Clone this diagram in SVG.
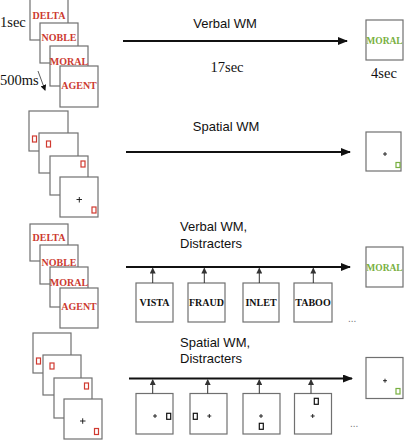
<svg xmlns="http://www.w3.org/2000/svg" width="407" height="440" viewBox="0 0 407 440">
<style>
.sq{fill:#fff;stroke:#707070;stroke-width:1.2}
.rw{font-family:"Liberation Serif",serif;font-weight:bold;font-size:10px;fill:#cc3a30}
.gw{font-family:"Liberation Serif",serif;font-weight:bold;font-size:9.5px;fill:#78b040}
.bw{font-family:"Liberation Serif",serif;font-weight:bold;font-size:10px;fill:#111}
.lab{font-family:"Liberation Sans",Arial,sans-serif;font-size:13px;fill:#111}
.tm{font-family:"Liberation Serif",serif;font-size:14.5px;fill:#111}
.rr{fill:none;stroke:#d03a30;stroke-width:1.2}
.gr{fill:none;stroke:#78b040;stroke-width:1.2}
.kr{fill:none;stroke:#111;stroke-width:1.2}
.pl{stroke:#111;stroke-width:0.9}
.main{stroke:#111;stroke-width:2.2;fill:none}
.up{stroke:#333;stroke-width:1;fill:none}
</style>
<defs>
<marker id="ah" markerWidth="10" markerHeight="8" refX="9" refY="4" orient="auto" markerUnits="userSpaceOnUse">
<path d="M0,0 L10,4 L0,8 Z" fill="#111"/>
</marker>
<marker id="ahs" markerWidth="6" markerHeight="6" refX="5" refY="3" orient="auto" markerUnits="userSpaceOnUse">
<path d="M0,0 L6,3 L0,6 Z" fill="#111"/>
</marker>
<marker id="aht" markerWidth="6" markerHeight="6" refX="5" refY="3" orient="auto" markerUnits="userSpaceOnUse">
<path d="M0,0 L6,3 L0,6 Z" fill="#333"/>
</marker>
</defs>

<!-- Panel 1: Verbal WM -->
<g id="p1-stack">
<rect class="sq" x="30" y="-2" width="38" height="42"/>
<text class="rw" x="49" y="19" text-anchor="middle">DELTA</text>
<rect class="sq" x="40" y="23" width="38" height="40"/>
<text class="rw" x="59" y="41" text-anchor="middle">NOBLE</text>
<rect class="sq" x="50" y="46" width="38" height="40"/>
<text class="rw" x="69" y="65" text-anchor="middle">MORAL</text>
<rect class="sq" x="60" y="66" width="38" height="41"/>
<text class="rw" x="79" y="89" text-anchor="middle">AGENT</text>
</g>
<g id="p1-timing">
<text class="tm" x="0" y="27">1sec</text>
<text class="tm" x="0" y="85">500ms</text>
<line x1="38" y1="71" x2="45" y2="90" stroke="#333" stroke-width="0.8" marker-end="url(#ahs)"/>
</g>
<g id="p1-label">
<text class="lab" x="225" y="28" text-anchor="middle">Verbal WM</text>
<text class="tm" x="227" y="72" text-anchor="middle">17sec</text>
</g>
<g id="p1-probe">
<rect class="sq" x="366" y="20" width="37" height="40"/>
<text class="gw" x="384.5" y="44" text-anchor="middle">MORAL</text>
<text class="tm" x="384" y="78" text-anchor="middle">4sec</text>
</g>

<!-- Panel 2: Spatial WM -->
<g id="p2-stack">
<rect class="sq" x="29" y="111" width="39" height="40"/>
<rect class="rr" x="32.5" y="136" width="4" height="6"/>
<rect class="sq" x="39" y="133" width="39" height="40"/>
<rect class="rr" x="46.5" y="141" width="4" height="6"/>
<rect class="sq" x="50" y="156" width="38" height="39"/>
<rect class="rr" x="81" y="161" width="4" height="6"/>
<rect class="sq" x="60" y="177" width="38" height="40"/>
<path class="pl" d="M76.5,199.5 h5.5 M79.3,197 v5.5"/>
<rect class="rr" x="92" y="207" width="4" height="6"/>
</g>
<g id="p2-label">
<text class="lab" x="226" y="131" text-anchor="middle">Spatial WM</text>
</g>
<g id="p2-probe">
<rect class="sq" x="366" y="132" width="35" height="39"/>
<path class="pl" d="M383,154 h4 M385,152 v4"/>
<rect class="gr" x="396" y="162.5" width="4" height="5"/>
</g>

<!-- Panel 3: Verbal WM, Distracters -->
<g id="p3-stack">
<rect class="sq" x="30" y="224" width="38" height="37"/>
<text class="rw" x="49" y="241" text-anchor="middle">DELTA</text>
<rect class="sq" x="40" y="245" width="38" height="39"/>
<text class="rw" x="59" y="266" text-anchor="middle">NOBLE</text>
<rect class="sq" x="50" y="267" width="38" height="40"/>
<text class="rw" x="69" y="286" text-anchor="middle">MORAL</text>
<rect class="sq" x="60" y="288" width="38" height="40"/>
<text class="rw" x="79" y="310" text-anchor="middle">AGENT</text>
</g>
<g id="p3-label">
<text class="lab" x="180" y="231">Verbal WM,</text>
<text class="lab" x="180" y="248">Distracters</text>
</g>
<g id="p3-d1"><rect class="sq" x="136" y="283" width="37" height="39"/><text class="bw" x="154.5" y="306" text-anchor="middle">VISTA</text></g>
<g id="p3-d2"><rect class="sq" x="188" y="283" width="37" height="39"/><text class="bw" x="206.5" y="306" text-anchor="middle">FRAUD</text></g>
<g id="p3-d3"><rect class="sq" x="243" y="283" width="36" height="39"/><text class="bw" x="261" y="306" text-anchor="middle">INLET</text></g>
<g id="p3-d4"><rect class="sq" x="294" y="283" width="38" height="39"/><text class="bw" x="313" y="306" text-anchor="middle">TABOO</text></g>
<g id="p3-dots"><text x="348" y="322" font-family="Liberation Sans,sans-serif" font-size="10" fill="#777">...</text></g>
<g id="p3-probe">
<rect class="sq" x="366" y="247" width="37" height="40"/>
<text class="gw" x="384.5" y="271" text-anchor="middle">MORAL</text>
</g>

<!-- Panel 4: Spatial WM, Distracters -->
<g id="p4-stack">
<rect class="sq" x="33" y="333" width="38" height="40"/>
<rect class="rr" x="36.5" y="358" width="4" height="6"/>
<rect class="sq" x="43" y="355" width="38" height="40"/>
<rect class="rr" x="50" y="363" width="4" height="6"/>
<rect class="sq" x="54" y="378" width="38" height="40"/>
<rect class="rr" x="84.5" y="383" width="4" height="6"/>
<rect class="sq" x="64" y="399" width="38" height="40"/>
<path class="pl" d="M80,421 h5.5 M82.7,418.3 v5.5"/>
<rect class="rr" x="94.5" y="428.5" width="4" height="6"/>
</g>
<g id="p4-label">
<text class="lab" x="180" y="347">Spatial WM,</text>
<text class="lab" x="180" y="363">Distracters</text>
</g>
<g id="p4-d1"><rect class="sq" x="136" y="393.5" width="37" height="40.5"/><path class="pl" d="M153,416 h4 M155,414 v4"/><rect class="kr" x="166.7" y="413.3" width="4" height="6"/></g>
<g id="p4-d2"><rect class="sq" x="190" y="393.5" width="37" height="40.5"/><rect class="kr" x="193.3" y="413.3" width="4" height="6"/><path class="pl" d="M207.3,416 h4 M209.3,414 v4"/></g>
<g id="p4-d3"><rect class="sq" x="243" y="393.5" width="37" height="40.5"/><path class="pl" d="M259,416 h4 M261,414 v4"/><rect class="kr" x="259.3" y="423.3" width="4" height="6"/></g>
<g id="p4-d4"><rect class="sq" x="294.5" y="393.5" width="37" height="40.5"/><rect class="kr" x="314.3" y="398.3" width="4" height="6"/><path class="pl" d="M310.7,416 h4 M312.7,414 v4"/></g>
<g id="p4-dots"><text x="350" y="427" font-family="Liberation Sans,sans-serif" font-size="10" fill="#777">...</text></g>
<g id="p4-probe">
<rect class="sq" x="366" y="357.5" width="37" height="41"/>
<path class="pl" d="M383,380.7 h4 M385,378.7 v4"/>
<rect class="gr" x="396" y="388.5" width="4" height="5.5"/>
</g>

<!-- Connectors -->
<g id="connectors">
<line class="main" x1="123" y1="41" x2="347" y2="41" marker-end="url(#ah)"/>
<line class="main" x1="126" y1="152" x2="350" y2="152" marker-end="url(#ah)"/>
<line class="main" x1="126" y1="267" x2="350" y2="267" marker-end="url(#ah)"/>
<line class="main" x1="129" y1="378.5" x2="352" y2="378.5" marker-end="url(#ah)"/>
<line class="up" x1="152.7" y1="283" x2="152.7" y2="268.5" marker-end="url(#aht)"/>
<line class="up" x1="204.3" y1="283" x2="204.3" y2="268.5" marker-end="url(#aht)"/>
<line class="up" x1="259.3" y1="283" x2="259.3" y2="268.5" marker-end="url(#aht)"/>
<line class="up" x1="313.3" y1="283" x2="313.3" y2="268.5" marker-end="url(#aht)"/>
<line class="up" x1="152.7" y1="393.5" x2="152.7" y2="380" marker-end="url(#aht)"/>
<line class="up" x1="207.7" y1="393.5" x2="207.7" y2="380" marker-end="url(#aht)"/>
<line class="up" x1="259.3" y1="393.5" x2="259.3" y2="380" marker-end="url(#aht)"/>
<line class="up" x1="311" y1="393.5" x2="311" y2="380" marker-end="url(#aht)"/>
</g>
</svg>
